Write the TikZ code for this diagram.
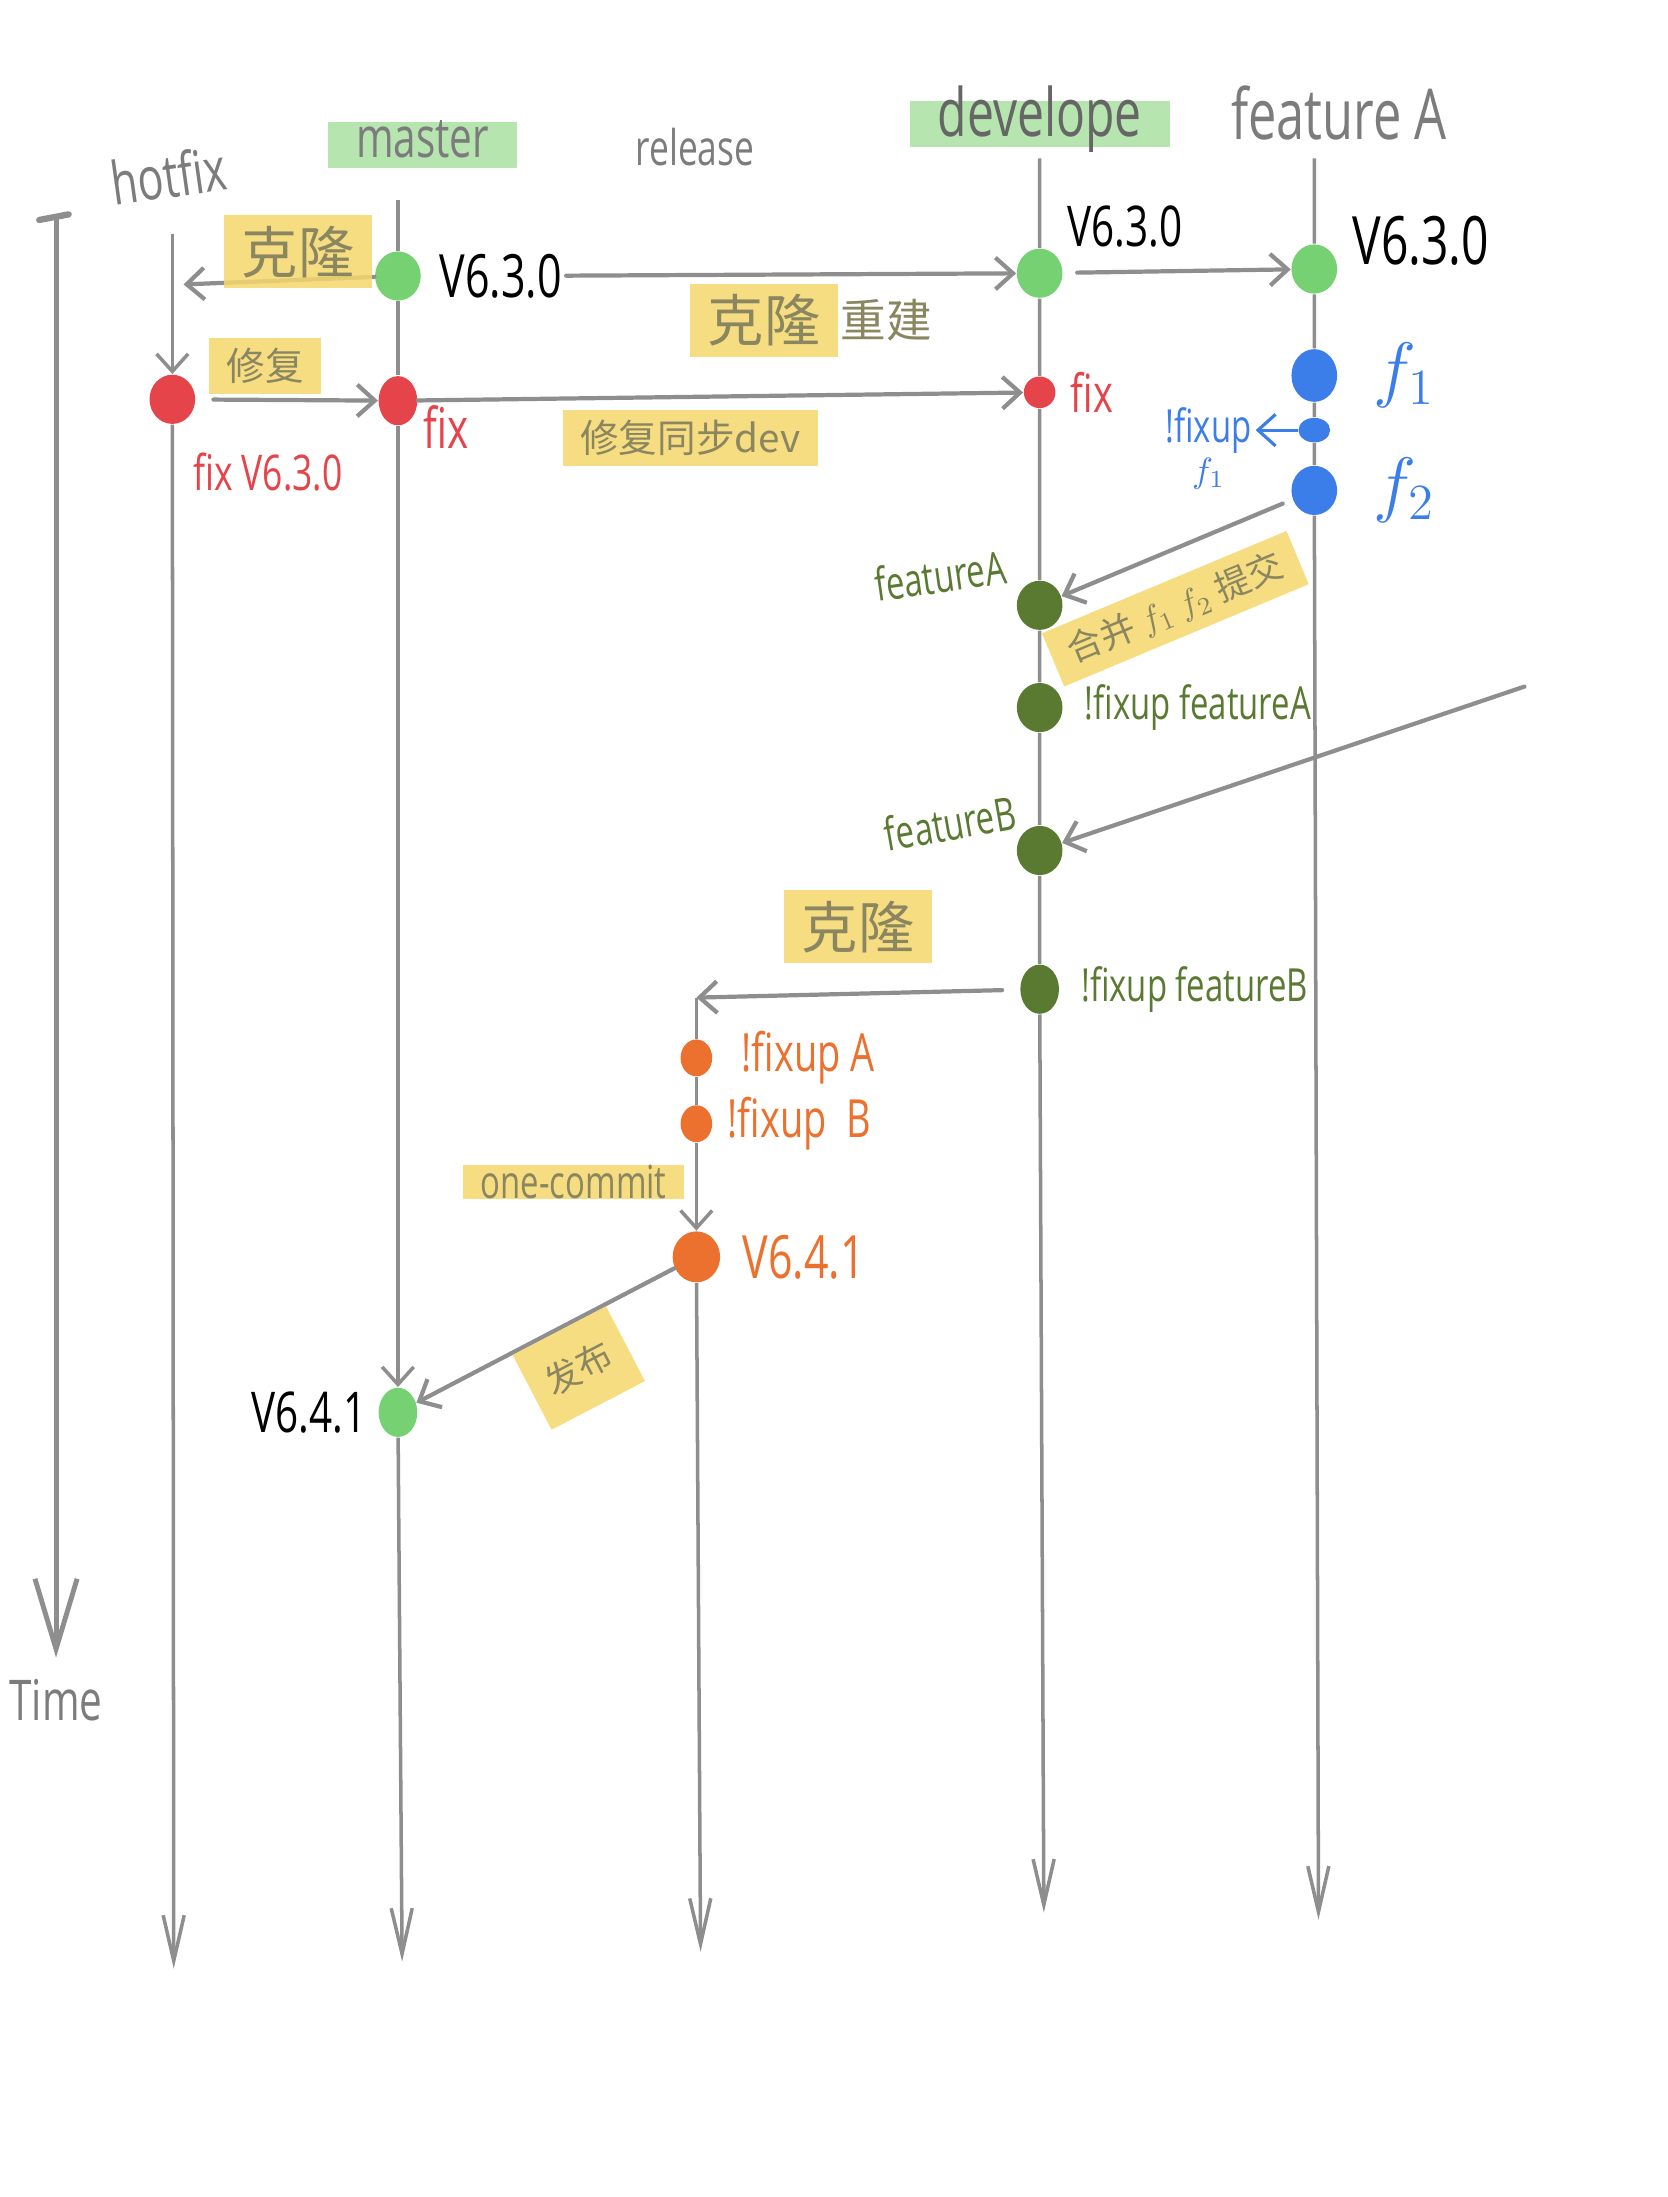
\documentclass[tikz,border=0pt]{standalone}
\usepackage{fontspec}
\setmainfont[FakeStretch=0.72]{Open Sans}
\newfontfamily\cjk{Noto Sans CJK SC}
\usetikzlibrary{arrows.meta,positioning,shapes.geometric}

\definecolor{linegray}{HTML}{8E8E8E}
\definecolor{headgray}{HTML}{7C7C7C}
\definecolor{notegray}{HTML}{8A8760}
\definecolor{hlyellow}{HTML}{F6D76C}
\definecolor{hlgreen}{HTML}{9EDC95}
\definecolor{cgreen}{HTML}{76D173}
\definecolor{cred}{HTML}{E5444B}
\definecolor{cblue}{HTML}{3C7EE9}
\definecolor{colive}{HTML}{5A7A32}
\definecolor{corange}{HTML}{EC702E}

\begin{document}
\begin{tikzpicture}[x=0.014017cm,y=-0.014017cm,
  >={Straight Barb[length=5pt,width=9pt]},
  branch/.style={draw=linegray,line width=1pt},
  link/.style={linegray,line width=1.2pt,->,line cap=round},
  tail/.style={-{Straight Barb[length=13pt,width=6pt]}},
  commit/.style={ellipse,inner sep=0pt,minimum width=13pt,minimum height=14pt},
  minor/.style={minimum width=9pt,minimum height=9pt},
  head/.style={text=headgray,inner sep=1pt,font=\fontsize{17}{20}\selectfont},
  hlg/.style={fill=hlgreen,fill opacity=0.75,text opacity=1,inner xsep=8pt,inner ysep=1pt,text height=9pt,text depth=2pt},
  note/.style={text=notegray,inner xsep=5pt,inner ysep=3pt,font=\cjk\fontsize{16}{18}\selectfont},
  hl/.style={note,fill=hlyellow,fill opacity=0.85,text opacity=1},
  tag/.style={inner sep=1pt,font=\fontsize{17}{20}\selectfont}]
\useasboundingbox (0,0) rectangle (1190,1568);

\node[commit,fill=cgreen] (m_630) at (284,197) {};
\node[commit,fill=cgreen] (d_630) at (742,195) {};
\node[commit,fill=cgreen] (a_630) at (938,192) {};
\node[commit,fill=cred] (h_fix) at (123,285) {};
\node[commit,fill=cred,minimum width=11pt] (m_fix) at (284,286) {};
\node[commit,minor,fill=cred] (d_fix) at (742,280) {};
\node[commit,fill=cblue,minimum height=15pt] (a_f1) at (938,268) {};
\node[commit,minor,fill=cblue,minimum height=7pt] (a_fixup) at (938,307) {};
\node[commit,fill=cblue] (a_f2) at (938,350) {};
\node[commit,fill=colive] (d_fa) at (742,432) {};
\node[commit,fill=colive] (d_fixa) at (742,505) {};
\node[commit,fill=colive] (d_fb) at (742,607) {};
\node[commit,fill=colive,minimum width=11pt] (d_fixb) at (742,706) {};
\node[commit,minor,fill=corange,minimum height=10.5pt] (r_fixa) at (497,755) {};
\node[commit,minor,fill=corange,minimum height=10.5pt] (r_fixb) at (497,802) {};
\node[commit,fill=corange,minimum width=13.5pt,minimum height=14.5pt] (r_641) at (497,897) {};
\node[commit,fill=cgreen,minimum width=11pt] (m_641) at (284,1008) {};

\coordinate (t_top) at (40,155);
\coordinate (t_end) at (40,1183);
\coordinate (t_tick_l) at (28,157);
\coordinate (t_tick_r) at (49,153);
\coordinate (h_top) at (123,167);
\coordinate (h_end) at (124,1405);
\coordinate (h_clone) at (131,203);
\coordinate (m_top) at (284,143);
\coordinate (m_end) at (287,1400);
\coordinate (r_top) at (497,712);
\coordinate (r_end) at (500,1393);
\coordinate (d_top) at (742,113);
\coordinate (d_end) at (745,1365);
\coordinate (a_top) at (938,113);
\coordinate (a_end) at (941,1370);
\coordinate (far_b) at (1088,490);

\draw[branch,line width=1.4pt,-{Straight Barb[length=20pt,width=12pt]}] (t_top) -- (t_end);
\draw[branch,line width=1.8pt,line cap=round] (t_tick_l) -- (t_tick_r);
\draw[branch,->] (h_top) -- (h_fix);
\draw[branch,tail] (h_fix) -- (h_end);
\draw[branch] (m_top) -- (m_630) -- (m_fix);
\draw[branch,->] (m_fix) -- (m_641);
\draw[branch,tail] (m_641) -- (m_end);
\draw[branch,tail] (d_top) -- (d_630) -- (d_fix) -- (d_fa) -- (d_fixa) -- (d_fb) -- (d_fixb) -- (d_end);
\draw[branch,tail] (a_top) -- (a_630) -- (a_f1) -- (a_fixup) -- (a_f2) -- (a_end);
\draw[branch] (r_top) -- (r_fixa) -- (r_fixb);
\draw[branch,->] (r_fixb) -- node[hl,left=3pt,pos=0.45,inner ysep=0pt,font=\fontsize{13}{15}\selectfont] {one-commit} (r_641);
\draw[branch,tail] (r_641) -- (r_end);

\node[head,above=9pt of h_top,rotate=8] (h_name) {hotfix};
\node[head,hlg,above=9pt of m_top,xshift=7pt,font=\fontsize{16}{18}\selectfont] (m_name) {master};
\node[head,font=\fontsize{14}{16}\selectfont] (r_name) at (496,105) {release};
\node[head,hlg,above=3pt of d_top,text=black!60,font=\fontsize{19}{21}\selectfont] (d_name) {develope};
\node[head,above=4pt of a_top,xshift=7pt,font=\fontsize{20}{22}\selectfont] (a_name) {feature A};
\node[head,below=5pt of t_end,font=\fontsize{16}{18}\selectfont] (t_name) {Time};

\node[tag,right=4pt of m_630] (m_630_l) {V6.3.0};
\node[tag,above right=1pt and 2pt of d_630,font=\fontsize{16}{18}\selectfont] (d_630_l) {V6.3.0};
\node[tag,right=3pt of a_630,yshift=8pt,font=\fontsize{19}{21}\selectfont] (a_630_l) {V6.3.0};
\node[tag,text=cred,below right=9pt and 0pt of h_fix,font=\fontsize{14}{16}\selectfont] (h_fix_l) {fix V6.3.0};
\node[tag,text=cred,below right=-5pt and 2pt of m_fix,font=\fontsize{16}{18}\selectfont] (m_fix_l) {fix};
\node[tag,text=cred,right=3pt of d_fix,font=\fontsize{15}{17}\selectfont] (d_fix_l) {fix};
\node[tag,text=cblue,right=9pt of a_f1,font=\fontsize{20}{22}\selectfont] (a_f1_l) {$f_1$};
\node[tag,text=cblue,left=12pt of a_fixup,font=\fontsize{13}{15}\selectfont] (a_fixup_l) {!fixup};
\node[tag,text=cblue,below=-1pt of a_fixup_l,font=\fontsize{10}{12}\selectfont] (a_fixup_s) {$f_1$};
\node[tag,text=cblue,right=9pt of a_f2,font=\fontsize{20}{22}\selectfont] (a_f2_l) {$f_2$};
\node[tag,text=colive,above left=0pt and 3pt of d_fa,rotate=8,font=\fontsize{13}{15}\selectfont] (d_fa_l) {featureA};
\node[tag,text=colive,right=5pt of d_fixa,font=\fontsize{13}{15}\selectfont] (d_fixa_l) {!fixup featureA};
\node[tag,text=colive,above left=0pt and 0pt of d_fb,rotate=10,font=\fontsize{13}{15}\selectfont] (d_fb_l) {featureB};
\node[tag,text=colive,right=5pt of d_fixb,font=\fontsize{13}{15}\selectfont] (d_fixb_l) {!fixup featureB};
\node[tag,text=corange,right=7pt of r_fixa,font=\fontsize{15}{17}\selectfont] (r_fixa_l) {!fixup A};
\node[tag,text=corange,right=3pt of r_fixb,font=\fontsize{15}{17}\selectfont] (r_fixb_l) {!fixup~ B};
\node[tag,text=corange,right=5pt of r_641,font=\fontsize{17}{19}\selectfont] (r_641_l) {V6.4.1};
\node[tag,left=2pt of m_641,font=\fontsize{16}{18}\selectfont] (m_641_l) {V6.4.1};

\draw[->,cblue,line width=0.9pt] (a_fixup) -- (a_fixup_l);

\path[link] (m_630) edge node[hl,above=-3pt,pos=0.4] {克隆} (h_clone)
  (m_630_l) edge node[hl,below=2pt,pos=0.44] (c_rebuild) {克隆} (d_630)
  (d_630) edge[shorten <=4pt] (a_630)
  (h_fix) edge[shorten <=5pt] node[hl,above=1pt,pos=0.38,font=\cjk\fontsize{11}{13}\selectfont] {修复} (m_fix)
  (m_fix) edge node[hl,below=3pt,pos=0.45,font=\cjk\fontsize{11}{13}\selectfont] {修复同步dev} (d_fix)
  (a_f2) edge[shorten <=3pt] node[hl,sloped,below=7pt,pos=0.6,font=\cjk\fontsize{10}{12}\selectfont] {合并 $f_1$ $f_2$ 提交} (d_fa)
  (far_b) edge (d_fb)
  (d_fixb) edge[shorten <=5pt] node[hl,above=8pt,pos=0.5] {克隆} (r_top)
  (r_641) edge node[hl,sloped,below=0pt,pos=0.45,minimum width=30pt,minimum height=24pt,font=\cjk\fontsize{10}{12}\selectfont] {发布} (m_641);
\node[note,right=-5pt of c_rebuild,font=\cjk\fontsize{13}{15}\selectfont] (c_rebuild_r) {重建};
\end{tikzpicture}
\end{document}
